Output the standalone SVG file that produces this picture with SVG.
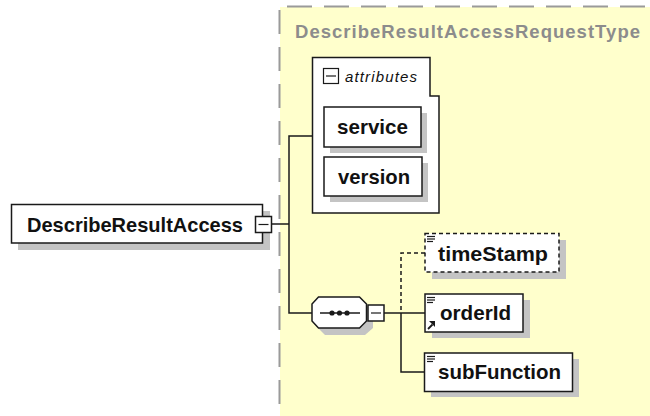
<svg xmlns="http://www.w3.org/2000/svg" width="650" height="416" viewBox="0 0 650 416">
  <style>
    .box { fill: #ffffff; stroke: #1a1a1a; stroke-width: 1.5; }
    .shadow { fill: #c4c4c4; stroke: none; }
    .lbl { font-family: "Liberation Sans", Arial, sans-serif; font-weight: bold; font-size: 21px; fill: #111111; }
    .conn { fill: none; stroke: #1a1a1a; stroke-width: 1.5; }
    .dash { stroke-dasharray: 4,3; }
    .icon { stroke: #1a1a1a; stroke-width: 1.2; fill: none; }
  </style>
  <defs>
    <g id="lines">
      <line x1="0" y1="0.5" x2="8" y2="0.5" class="icon"/>
      <line x1="0" y1="3" x2="8" y2="3" class="icon"/>
      <line x1="0" y1="5.5" x2="6" y2="5.5" class="icon"/>
    </g>
  </defs>

  <!-- complex type background -->
  <g id="type-bg">
    <rect x="280" y="7" width="380" height="420" fill="#ffffcc"/>
    <line x1="287" y1="6.5" x2="650" y2="6.5" stroke="#9a9a9a" stroke-width="2" stroke-dasharray="25,12"/>
    <line x1="279.5" y1="10" x2="279.5" y2="416" stroke="#9a9a9a" stroke-width="2" stroke-dasharray="24,13"/>
    <text x="295" y="38" font-family="Liberation Sans, Arial, sans-serif" font-weight="bold" font-size="18.5" fill="#8c8c8c" textLength="345" lengthAdjust="spacing">DescribeResultAccessRequestType</text>
  </g>

  <!-- connectors -->
  <g id="connectors">
    <line x1="272" y1="224" x2="289" y2="224" class="conn"/>
    <polyline points="312,136 289,136 289,313 312,313" class="conn"/>
    <line x1="384" y1="313" x2="425" y2="313" class="conn"/>
    <polyline points="425,253 401,253 401,313" class="conn dash"/>
    <polyline points="401,313 401,372 425,372" class="conn"/>
  </g>

  <!-- root element -->
  <g id="node-DescribeResultAccess">
    <rect x="18" y="211" width="252" height="39" class="shadow"/>
    <rect x="11.5" y="204.5" width="251" height="38.5" class="box"/>
    <text x="27" y="232" class="lbl" textLength="216" lengthAdjust="spacingAndGlyphs">DescribeResultAccess</text>
    <rect x="255.5" y="216.5" width="16" height="16" class="box"/>
    <line x1="258.5" y1="224.5" x2="268.5" y2="224.5" class="icon"/>
  </g>

  <!-- attributes group -->
  <g id="node-attributes">
    <path d="M312.5,57.5 H430 V96 H439 V213 H312.5 Z" class="box"/>
    <rect x="323.5" y="68.5" width="15" height="15" fill="#ffffff" stroke="#1a1a1a" stroke-width="1.2"/>
    <line x1="326" y1="76" x2="336" y2="76" class="icon"/>
    <text x="345" y="82" font-family="Liberation Sans, Arial, sans-serif" font-style="italic" font-size="15" fill="#111111" textLength="72" lengthAdjust="spacing">attributes</text>
  </g>

  <g id="node-service">
    <rect x="330" y="113" width="97" height="40" class="shadow"/>
    <rect x="324" y="107" width="97" height="40" class="box"/>
    <text x="337" y="134" class="lbl" textLength="71" lengthAdjust="spacingAndGlyphs">service</text>
  </g>

  <g id="node-version">
    <rect x="330" y="163" width="98" height="39" class="shadow"/>
    <rect x="324" y="157" width="98" height="39" class="box"/>
    <text x="338" y="184" class="lbl" textLength="72" lengthAdjust="spacingAndGlyphs">version</text>
  </g>

  <!-- sequence compositor -->
  <g id="node-sequence">
    <polygon points="325,304 365,304 373,311 373,328 365,335 325,335 318,328 318,311" class="shadow"/>
    <polygon points="318.5,297 359.5,297 366.5,304 366.5,321 359.5,328 318.5,328 312,321 312,304" class="box"/>
    <line x1="320" y1="313" x2="360" y2="313" class="conn"/>
    <circle cx="332" cy="313" r="2.6" fill="#1a1a1a"/>
    <circle cx="339.5" cy="313" r="2.6" fill="#1a1a1a"/>
    <circle cx="347" cy="313" r="2.6" fill="#1a1a1a"/>
    <rect x="368" y="305" width="16" height="16" class="box"/>
    <line x1="371" y1="313" x2="381" y2="313" class="icon"/>
  </g>

  <g id="node-timeStamp">
    <rect x="432" y="240" width="134" height="39" class="shadow"/>
    <rect x="425" y="233.5" width="134" height="38.5" fill="#ffffff" stroke="#1a1a1a" stroke-width="1.5" stroke-dasharray="4,3"/>
    <use href="#lines" x="427" y="236"/>
    <text x="438" y="261" class="lbl" textLength="110" lengthAdjust="spacingAndGlyphs">timeStamp</text>
  </g>

  <g id="node-orderId">
    <rect x="432" y="300" width="98" height="38" class="shadow"/>
    <rect x="425" y="294" width="98" height="38" class="box"/>
    <use href="#lines" x="427" y="297"/>
    <line x1="428" y1="329" x2="432.5" y2="324.5" stroke="#1a1a1a" stroke-width="1.8"/>
    <polygon points="435,321 435,327 429,321" fill="#1a1a1a"/>
    <text x="440" y="320" class="lbl" textLength="71" lengthAdjust="spacingAndGlyphs">orderId</text>
  </g>

  <g id="node-subFunction">
    <rect x="431" y="359" width="148" height="38" class="shadow"/>
    <rect x="424.5" y="353" width="148" height="38.5" class="box"/>
    <use href="#lines" x="427" y="356"/>
    <text x="438" y="379" class="lbl" textLength="123" lengthAdjust="spacingAndGlyphs">subFunction</text>
  </g>
</svg>
